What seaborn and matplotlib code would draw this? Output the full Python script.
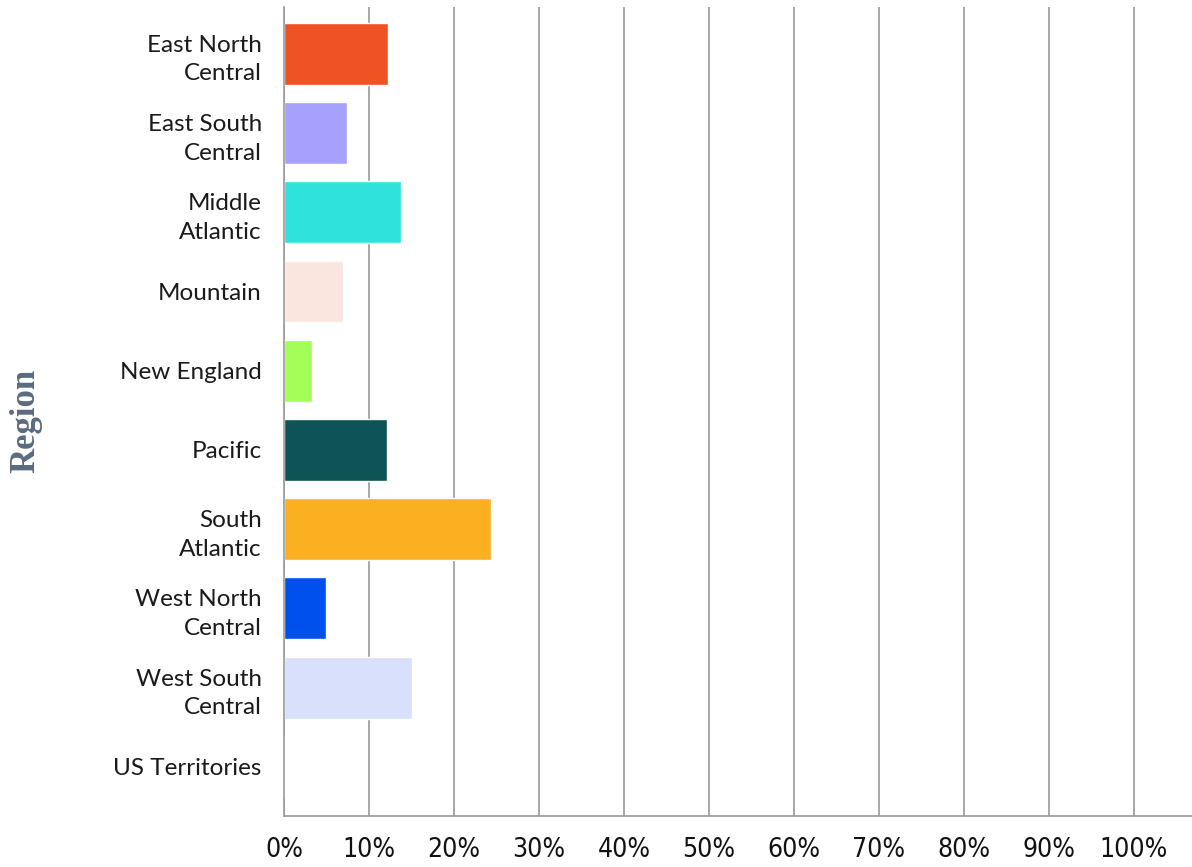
import matplotlib
matplotlib.use("Agg")
import matplotlib.pyplot as plt
import matplotlib.ticker as mticker
from matplotlib import font_manager
import seaborn as sns
import pandas as pd

regions = [
    "East North\nCentral", "East South\nCentral", "Middle\nAtlantic", "Mountain",
    "New England", "Pacific", "South\nAtlantic", "West North\nCentral",
    "West South\nCentral", "US Territories",
]
shares = [0.122, 0.074, 0.138, 0.069, 0.033, 0.121, 0.243, 0.049, 0.150, 0.0]
colors = [
    "#F05323", "#A7A1FE", "#2FE3DC", "#FAE5DF", "#A3FF57",
    "#0E5456", "#FBB022", "#0050EE", "#D8E0FC", "#FFFFFF",
]
x_ticks = [i / 10 for i in range(11)]

df = pd.DataFrame({"Region": regions, "Share": shares})

sns.set_theme(style="white")
plt.rcParams["font.family"] = ["Lato", "DejaVu Sans"]

fig = plt.figure(figsize=(11.92, 8.67), dpi=100)
ax = fig.add_axes([284 / 1192, 1 - 816 / 867, 1 - 284 / 1192, (816 - 7) / 867])

sns.barplot(
    data=df, x="Share", y="Region", hue="Region", palette=colors,
    legend=False, width=0.78, orient="h", ax=ax, saturation=1,
)

ax.set_xlim(0, (1192 - 284) / 850)
ax.set_ylim(9.62, -0.59)
ax.set_xticks(x_ticks)
ax.xaxis.set_major_formatter(mticker.PercentFormatter(xmax=1, decimals=0))
ax.grid(axis="x", color="#9a9a9a", linewidth=1.2)
ax.set_axisbelow(True)
for side in ["top", "right"]:
    ax.spines[side].set_visible(False)
for side in ["left", "bottom"]:
    ax.spines[side].set_color("#9a9a9a")
    ax.spines[side].set_linewidth(1.2)

ax.tick_params(axis="both", length=0)
ax.tick_params(axis="y", pad=16)
ax.tick_params(axis="x", pad=15)
for lbl in ax.get_yticklabels():
    lbl.set_fontsize(17.5)
    lbl.set_color("#1a1a1a")
    lbl.set_linespacing(1.45)

condensed = font_manager.FontProperties(family="DejaVu Sans", stretch="condensed", size=19)
for lbl in ax.get_xticklabels():
    lbl.set_fontproperties(condensed)
    lbl.set_color("#111111")

ax.set_xlabel("")
ax.set_ylabel("Region", fontsize=25, color="#5B6B7F",
              family=["Liberation Serif", "DejaVu Serif"], fontweight="bold")
ax.yaxis.set_label_coords(-0.266, 0.488)

fig.savefig("out.png", dpi=100)
